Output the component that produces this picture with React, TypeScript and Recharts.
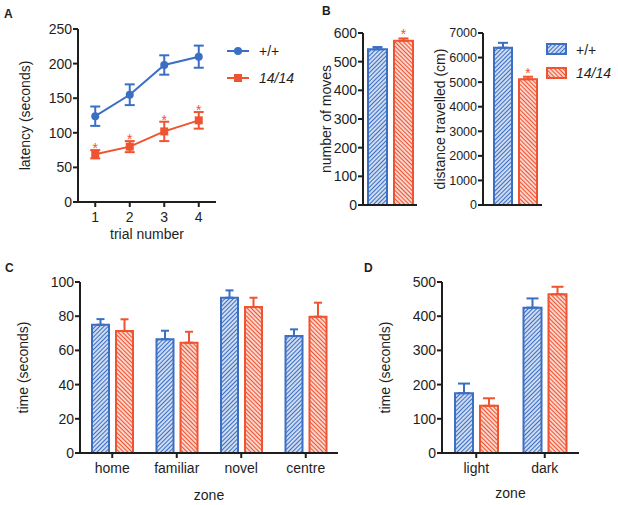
import { Bar, BarChart, ErrorBar, LabelList, Line, LineChart, XAxis, YAxis } from 'recharts';

const BLUE = '#3a6fc4';
const RED = '#ef5330';
const INK = '#1e1e1e';
const FONT = '"Liberation Sans", Arial, sans-serif';

// A: latency by trial
const trials = [1, 2, 3, 4];
const wtLatency = [124, 155, 198, 210];
const wtLatencyErr = [14, 15, 14, 16];
const mutLatency = [69, 80, 102, 118];
const mutLatencyErr = [6, 8, 14, 12];
const latencySig = [true, true, true, true];
const latencyTicks = [0, 50, 100, 150, 200, 250];

// B: moves and distance
const moves = [543, 573];
const movesErr = [8, 8];
const movesTicks = [0, 100, 200, 300, 400, 500, 600];
const distance = [6400, 5120];
const distanceErr = [200, 100];
const distanceTicks = [0, 1000, 2000, 3000, 4000, 5000, 6000, 7000];

// C: time per zone
const zones = ['home', 'familiar', 'novel', 'centre'];
const zoneWt = [75, 66.5, 90.8, 68.4];
const zoneWtErr = [3.3, 5, 4.3, 3.9];
const zoneMut = [71.3, 64.5, 85.4, 79.7];
const zoneMutErr = [6.9, 6.4, 5.4, 8.2];
const zoneTicks = [0, 20, 40, 60, 80, 100];

// D: light / dark
const ldZones = ['light', 'dark'];
const ldWt = [175, 425];
const ldWtErr = [28, 27];
const ldMut = [138, 464];
const ldMutErr = [22, 22];
const ldTicks = [0, 100, 200, 300, 400, 500];

const latencyData = trials.map((t, i) => ({
  trial: t,
  wt: wtLatency[i],
  wtErr: wtLatencyErr[i],
  mut: mutLatency[i],
  mutErr: mutLatencyErr[i],
  star: latencySig[i] ? mutLatency[i] + mutLatencyErr[i] : null,
}));

const movesData = [{ name: 'moves', wt: moves[0], wtErr: [0, movesErr[0]], mut: moves[1], mutErr: [0, movesErr[1]] }];
const distanceData = [
  { name: 'distance', wt: distance[0], wtErr: [0, distanceErr[0]], mut: distance[1], mutErr: [0, distanceErr[1]] },
];
const zoneData = zones.map((z, i) => ({
  zone: z,
  wt: zoneWt[i],
  wtErr: [0, zoneWtErr[i]],
  mut: zoneMut[i],
  mutErr: [0, zoneMutErr[i]],
}));
const ldData = ldZones.map((z, i) => ({
  zone: z,
  wt: ldWt[i],
  wtErr: [0, ldWtErr[i]],
  mut: ldMut[i],
  mutErr: [0, ldMutErr[i]],
}));

function Hatch({ id, color, angle }: { id: string; color: string; angle: number }) {
  return (
    <pattern id={id} width={3} height={3} patternUnits="userSpaceOnUse" patternTransform={`rotate(${angle})`}>
      <rect width={3} height={3} fill="#fff" />
      <line x1={1.5} y1={-1} x2={1.5} y2={4} stroke={color} strokeWidth={1.5} />
    </pattern>
  );
}

function HatchDefs({ p }: { p: string }) {
  return (
    <defs>
      <Hatch id={`${p}-wt`} color={BLUE} angle={45} />
      <Hatch id={`${p}-mut`} color={RED} angle={-45} />
    </defs>
  );
}

// axis titles, placed relative to the axis box
const yTitle = (text: string, dist: number) => (p: any) => {
  const vb = p.viewBox || { x: 0, y: 0, width: 0, height: 0 };
  const x = vb.x + vb.width - dist;
  const y = vb.y + vb.height / 2;
  return (
    <text x={x} y={y} transform={`rotate(-90 ${x} ${y})`} textAnchor="middle" dominantBaseline="central" fontSize={14} fill={INK}>
      {text}
    </text>
  );
};

const xTitle = (text: string, dist: number) => (p: any) => {
  const vb = p.viewBox || { x: 0, y: 0, width: 0, height: 0 };
  return (
    <text x={vb.x + vb.width / 2} y={vb.y + dist} textAnchor="middle" fontSize={14} fill={INK}>
      {text}
    </text>
  );
};

const axisLine = { stroke: INK, strokeWidth: 2 };
const tickLine = { stroke: INK, strokeWidth: 2 };
const tick = { fontSize: 14, fill: INK };

// asterisk on a hidden line placed at the top of the error bar
const starDot = (gap: number) => (p: any) =>
  p.value == null ? (
    <g key={p.index} />
  ) : (
    <text key={p.index} x={p.cx} y={p.cy + gap} textAnchor="middle" fontSize={14} fill={RED}>
      *
    </text>
  );

const squareDot = (p: any) => <rect key={p.index} x={p.cx - 4} y={p.cy - 4} width={8} height={8} fill={RED} />;

// asterisk above a bar's error bar, using the bar's own pixel scale
const barStar = (err: number, gap: number) => (p: any) => {
  const vb = p.viewBox || p;
  const v = Array.isArray(p.value) ? p.value[1] : p.value;
  const h = Math.abs(vb.height);
  const top = Math.min(vb.y, vb.y + vb.height);
  const errTop = top - (err * h) / v;
  return (
    <text x={vb.x + vb.width / 2} y={errTop + gap} textAnchor="middle" fontSize={14} fill={RED}>
      *
    </text>
  );
};

function PanelA() {
  return (
    <LineChart width={230} height={250} data={latencyData} margin={{ top: 29, right: 14, bottom: 8, left: 28 }}>
      <XAxis
        type="number"
        dataKey="trial"
        domain={[0.5, 4.5]}
        ticks={trials}
        height={40}
        tickSize={5}
        tickMargin={5}
        axisLine={axisLine}
        tickLine={tickLine}
        tick={tick}
        label={xTitle('trial number', 37)}
      />
      <YAxis
        width={50}
        domain={[0, 250]}
        ticks={latencyTicks}
        tickSize={5}
        tickMargin={1}
        axisLine={axisLine}
        tickLine={tickLine}
        tick={tick}
        label={yTitle('latency (seconds)', 53)}
      />
      <Line dataKey="wt" stroke={BLUE} strokeWidth={2} dot={{ r: 4, fill: BLUE, stroke: BLUE, strokeWidth: 0 }} activeDot={false} isAnimationActive={false}>
        <ErrorBar dataKey="wtErr" direction="y" width={5} stroke={BLUE} strokeWidth={2} />
      </Line>
      <Line dataKey="mut" stroke={RED} strokeWidth={2} dot={squareDot} activeDot={false} isAnimationActive={false}>
        <ErrorBar dataKey="mutErr" direction="y" width={5} stroke={RED} strokeWidth={2} />
      </Line>
      <Line dataKey="star" stroke="none" dot={starDot(3)} activeDot={false} legendType="none" isAnimationActive={false} />
    </LineChart>
  );
}

function SmallBars({
  id,
  data,
  ticks,
  title,
  titleDist,
  yWidth,
  left,
  padLeft,
  barSize,
  starErr,
  tickSize,
}: {
  id: string;
  data: any[];
  ticks: number[];
  title: string;
  titleDist: number;
  yWidth: number;
  left: number;
  padLeft: number;
  barSize: number;
  starErr: number;
  tickSize: number;
}) {
  return (
    <BarChart
      width={125}
      height={250}
      data={data}
      margin={{ top: 33, right: 8, bottom: 35, left }}
      barSize={barSize}
      barGap={7}
    >
      <HatchDefs p={id} />
      <XAxis dataKey="name" height={10} tick={false} tickLine={false} axisLine={axisLine} padding={{ left: padLeft, right: 0 }} />
      <YAxis
        width={yWidth}
        domain={[0, ticks[ticks.length - 1]]}
        ticks={ticks}
        tickSize={5}
        tickMargin={1}
        axisLine={axisLine}
        tickLine={tickLine}
        tick={{ ...tick, fontSize: tickSize }}
        label={yTitle(title, titleDist)}
      />
      <Bar dataKey="wt" fill={`url(#${id}-wt)`} stroke={BLUE} strokeWidth={2} isAnimationActive={false}>
        <ErrorBar dataKey="wtErr" direction="y" width={5} stroke={BLUE} strokeWidth={2} />
      </Bar>
      <Bar dataKey="mut" fill={`url(#${id}-mut)`} stroke={RED} strokeWidth={2} isAnimationActive={false}>
        <ErrorBar dataKey="mutErr" direction="y" width={5} stroke={RED} strokeWidth={2} />
        <LabelList dataKey="mut" content={barStar(starErr, 1)} />
      </Bar>
    </BarChart>
  );
}

function ZoneBars({
  id,
  data,
  ticks,
  width,
  left,
  right,
  barSize,
  cap,
  titleDist,
}: {
  id: string;
  data: any[];
  ticks: number[];
  width: number;
  left: number;
  right: number;
  barSize: number;
  cap: number;
  titleDist: number;
}) {
  return (
    <BarChart width={width} height={255} data={data} margin={{ top: 32, right, bottom: 2, left }} barSize={barSize} barGap={7}>
      <HatchDefs p={id} />
      <XAxis
        dataKey="zone"
        height={50}
        tickSize={5}
        tickMargin={5}
        axisLine={axisLine}
        tickLine={tickLine}
        tick={tick}
        label={xTitle('zone', titleDist)}
      />
      <YAxis
        width={45}
        domain={[0, ticks[ticks.length - 1]]}
        ticks={ticks}
        tickSize={5}
        tickMargin={1}
        axisLine={axisLine}
        tickLine={tickLine}
        tick={tick}
        label={yTitle('time (seconds)', 57)}
      />
      <Bar dataKey="wt" fill={`url(#${id}-wt)`} stroke={BLUE} strokeWidth={2} isAnimationActive={false}>
        <ErrorBar dataKey="wtErr" direction="y" width={cap} stroke={BLUE} strokeWidth={2} />
      </Bar>
      <Bar dataKey="mut" fill={`url(#${id}-mut)`} stroke={RED} strokeWidth={2} isAnimationActive={false}>
        <ErrorBar dataKey="mutErr" direction="y" width={cap} stroke={RED} strokeWidth={2} />
      </Bar>
    </BarChart>
  );
}

function Overlay() {
  const letter = { fontSize: 12, fontWeight: 700, fill: INK } as const;
  const legendText = { fontSize: 14, fill: INK } as const;
  return (
    <svg width={618} height={505} style={{ position: 'absolute', left: 0, top: 0, pointerEvents: 'none' }}>
      <HatchDefs p="leg" />
      <text x={4} y={18} {...letter}>A</text>
      <text x={322} y={15} {...letter}>B</text>
      <text x={5} y={272} {...letter}>C</text>
      <text x={364} y={272} {...letter}>D</text>

      {/* legend A */}
      <line x1={227} y1={51} x2={249} y2={51} stroke={BLUE} strokeWidth={2} />
      <circle cx={238} cy={51} r={4} fill={BLUE} />
      <text x={259} y={56} {...legendText}>+/+</text>
      <line x1={227} y1={78} x2={249} y2={78} stroke={RED} strokeWidth={2} />
      <rect x={234} y={74} width={8} height={8} fill={RED} />
      <text x={259} y={83} {...legendText} fontStyle="italic">14/14</text>

      {/* legend B */}
      <rect x={547} y={44} width={19} height={10} fill="url(#leg-wt)" stroke={BLUE} strokeWidth={2} />
      <text x={576} y={55} {...legendText}>+/+</text>
      <rect x={547} y={68} width={19} height={10} fill="url(#leg-mut)" stroke={RED} strokeWidth={2} />
      <text x={576} y={78} {...legendText} fontStyle="italic">14/14</text>
    </svg>
  );
}

export default function App() {
  return (
    <div
      style={{
        position: 'absolute',
        left: 0,
        top: 0,
        width: 618,
        height: 505,
        background: '#fff',
        fontFamily: FONT,
        overflow: 'hidden',
      }}
    >
      <div style={{ position: 'absolute', left: 0, top: 0 }}>
        <PanelA />
      </div>
      <div style={{ position: 'absolute', left: 300, top: 0 }}>
        <SmallBars id="bm" data={movesData} ticks={movesTicks} title="number of moves" titleDist={37} yWidth={40} left={23} padLeft={1} barSize={19} starErr={movesErr[1]} tickSize={14} />
      </div>
      <div style={{ position: 'absolute', left: 425, top: 0 }}>
        <SmallBars id="bd" data={distanceData} ticks={distanceTicks} title="distance travelled (cm)" titleDist={43} yWidth={45} left={13} padLeft={5} barSize={18} starErr={distanceErr[1]} tickSize={12.5} />
      </div>
      <div style={{ position: 'absolute', left: 0, top: 250 }}>
        <ZoneBars id="cz" data={zoneData} ticks={zoneTicks} width={350} left={35} right={12} barSize={17} cap={4} titleDist={47} />
      </div>
      <div style={{ position: 'absolute', left: 360, top: 250 }}>
        <ZoneBars id="dz" data={ldData} ticks={ldTicks} width={230} left={37} right={11} barSize={18} cap={6} titleDist={45} />
      </div>
      <Overlay />
    </div>
  );
}
